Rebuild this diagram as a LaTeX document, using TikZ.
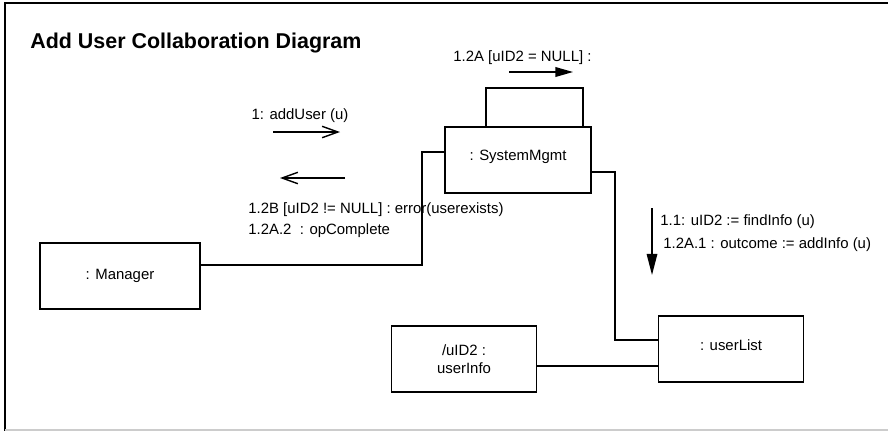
\documentclass[tikz,border=0pt]{standalone}
\usepackage{fontspec}
\setmainfont{Liberation Sans}
\usepackage{tikz}
\usetikzlibrary{arrows.meta, positioning}

\begin{document}
\begin{tikzpicture}[
  x=0.02cm, y=-0.02cm,
  obj/.style={draw, line width=1pt, minimum width=2.9cm, minimum height=1.32cm, align=center, font=\fontsize{8.5}{10.5}\selectfont},
  link/.style={line width=0.8pt},
  msg/.style={font=\fontsize{8.5}{10.5}\selectfont, inner sep=0pt},
  open/.style={line width=0.8pt, -{Straight Barb[length=9pt, width=6.5pt]}},
  solid/.style={line width=0.8pt, -{Triangle[length=10pt, width=5.5pt]}}
]
\useasboundingbox (0,0) rectangle (888,434);

% Frame
\draw[line width=1.1pt] (888,3) -- (5,3) -- (5,431);
\draw[gray!40, line width=0.6pt] (5,430) -- (888,430);
\node[anchor=west, inner sep=0pt, font=\bfseries\fontsize{12.2}{14}\selectfont] (title) at (30,43) {Add User Collaboration Diagram};

% Objects
\node[obj, minimum width=3.2cm] (manager) at (120,276) {: Manager};
\node[obj, minimum width=2.92cm] (sysmgmt) at (518,160) {\raisebox{5.6pt}{: SystemMgmt}};
\node[obj] (userlist) at (731,349) {\raisebox{4.5pt}{: userList}};
\node[obj] (userinfo) at (464,359) {/uID2 :\\ userInfo};

% Links
\draw[link] (sysmgmt.west |- 0,152) -- (422,152) |- (manager.east |- 0,265);
\draw[link] (sysmgmt.east |- 0,172) -- (615,172) |- (userlist.west |- 0,340);
\draw[link] (userinfo.east |- 0,366) -- (userlist.west |- 0,366);
\draw[line width=1pt] (sysmgmt.north -| 486,0) |- (583,88) -- (sysmgmt.north -| 583,0);

% Messages
\node[msg] (m1) at (300,116) {1: addUser (u)};
\coordinate (a1) at (273,132);
\draw[open] (a1) -- ++(67,0);
\coordinate (a2) at (345,178);
\draw[open] (a2) -- ++(-65,0);
\node[msg, anchor=west] (m2) at (248,210) {1.2B [uID2 != NULL] : error(userexists)};
\node[msg, anchor=west] (m3) at (248,231) {1.2A.2~~: opComplete};

\node[msg, anchor=west] (m4) at (453,58) {1.2A [uID2 = NULL] :};
\coordinate (a3) at (509,72);
\draw[solid] (a3) -- ++(64,0);

\coordinate (a4) at (652,208);
\draw[solid, -{Triangle[length=12pt, width=6pt]}] (a4) -- ++(0,67);
\node[msg, anchor=west] (m5) at (660,222) {1.1: uID2 := findInfo (u)};
\node[msg, anchor=west] (m6) at (663,245) {1.2A.1 : outcome := addInfo (u)};
\end{tikzpicture}
\end{document}
